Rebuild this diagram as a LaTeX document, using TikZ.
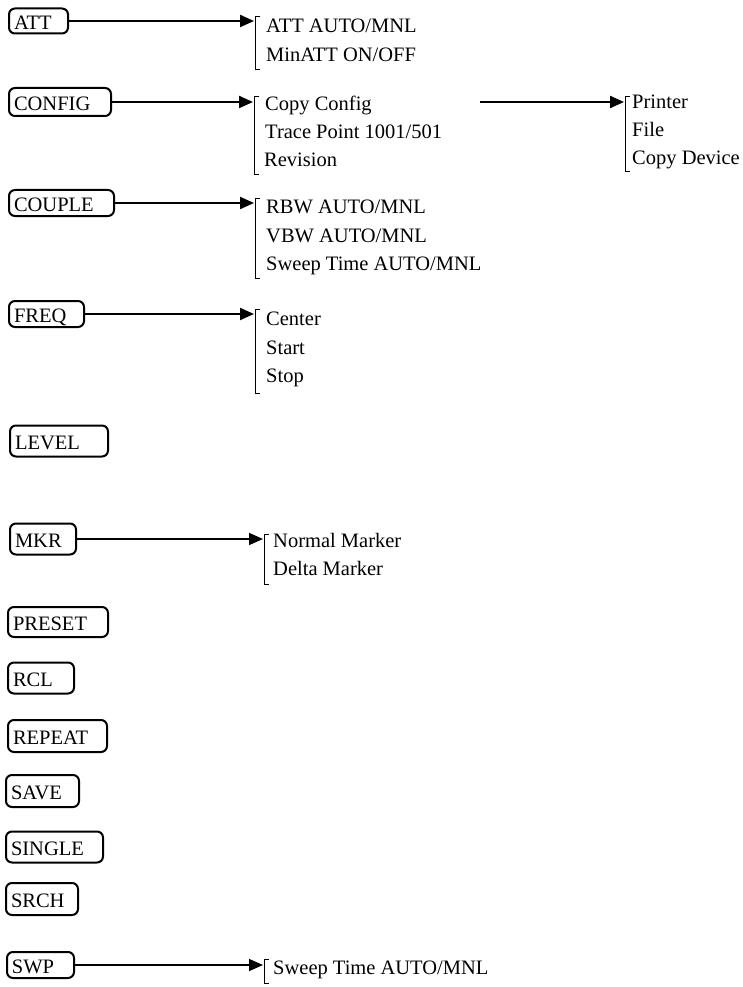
\documentclass[tikz,border=0pt]{standalone}
\usepackage{fontspec}
\setmainfont{Liberation Serif}
\usetikzlibrary{arrows.meta, positioning}

\begin{document}
\begin{tikzpicture}[x=1pt, y=-1pt, font=\fontsize{20.5pt}{24pt}\selectfont,
	menukey/.style={draw, line width=2pt, rounded corners=6pt, anchor=west, inner xsep=5pt, inner ysep=0pt, text height=17pt, text depth=0pt},
	menuarrow/.style={line width=2.2pt, -{Triangle[length=14pt, width=12pt]}},
	itembracket/.style={line width=1pt},
	entry/.style={anchor=base west, inner sep=0pt}]
	\useasboundingbox (0,0) rectangle (743,987);
	% Keys:
	\node[menukey, minimum height=25pt] (att) at (8,21) {\makebox[49pt][l]{ATT}};
	\node[menukey, minimum height=28pt] (config) at (8,102) {\makebox[92pt][l]{CONFIG}};
	\node[menukey, minimum height=26pt] (couple) at (8,203) {\makebox[95pt][l]{COUPLE}};
	\node[menukey, minimum height=26pt] (freq) at (8,314) {\makebox[65pt][l]{FREQ}};
	\node[menukey, minimum height=31pt] (level) at (9,441) {\makebox[88pt][l]{LEVEL}};
	\node[menukey, minimum height=31pt] (mkr) at (9,539) {\makebox[56pt][l]{MKR}};
	\node[menukey, minimum height=30pt] (preset) at (7,622) {\makebox[90pt][l]{PRESET}};
	\node[menukey, minimum height=31pt] (rcl) at (7,678) {\makebox[56pt][l]{RCL}};
	\node[menukey, minimum height=32pt] (repeat) at (7,736) {\makebox[89pt][l]{REPEAT}};
	\node[menukey, minimum height=32pt] (save) at (5,791) {\makebox[63pt][l]{SAVE}};
	\node[menukey, minimum height=31pt] (single) at (5,847) {\makebox[87pt][l]{SINGLE}};
	\node[menukey, minimum height=32pt] (srch) at (5,899) {\makebox[62pt][l]{SRCH}};
	\node[menukey, minimum height=26pt] (swp) at (6,965) {\makebox[57pt][l]{SWP}};
	% Bracket ends:
	\coordinate (att-br) at (254,21);
	\coordinate (config-br) at (253,102);
	\coordinate (couple-br) at (254,203);
	\coordinate (freq-br) at (254,314);
	\coordinate (mkr-br) at (263,539);
	\coordinate (swp-br) at (263,965);
	\coordinate (copy-out) at (480,102);
	\coordinate (copy-br) at (624,102);
	% Arrows:
	\draw[menuarrow] (att) -- (att-br);
	\draw[menuarrow] (config) -- (config-br);
	\draw[menuarrow] (couple) -- (couple-br);
	\draw[menuarrow] (freq) -- (freq-br);
	\draw[menuarrow, line width=1.5pt] (mkr) -- (mkr-br);
	\draw[menuarrow, line width=1.5pt] (swp) -- (swp-br);
	\draw[menuarrow] (copy-out) -- (copy-br);
	% Brackets:
	\draw[itembracket] (260,17) -| (255,70) -- (260,70);
	\draw[itembracket] (259,97) -| (254,175) -- (259,175);
	\draw[itembracket] (260,198) -| (255,278) -- (260,278);
	\draw[itembracket] (260,309) -| (255,393) -- (260,393);
	\draw[itembracket] (269,534) -| (264,584) -- (269,584);
	\draw[itembracket] (269,959) -| (264,983) -- (269,983);
	\draw[itembracket] (630,97) -| (625,172) -- (630,172);
	% Entries:
	\node[entry] (att-1) at (266,33) {ATT AUTO/MNL};
	\node[entry] (att-2) at (266,62) {MinATT ON/OFF};
	\node[entry] (config-1) at (265,111) {Copy Config};
	\node[entry] (config-2) at (265,139) {Trace Point 1001/501};
	\node[entry] (config-3) at (264,167) {Revision};
	\node[entry] (copy-1) at (632,109) {Printer};
	\node[entry] (copy-2) at (632,137) {File};
	\node[entry] (copy-3) at (632,165) {Copy Device};
	\node[entry] (couple-1) at (266,213) {RBW AUTO/MNL};
	\node[entry] (couple-2) at (266,242) {VBW AUTO/MNL};
	\node[entry] (couple-3) at (266,270) {Sweep Time AUTO/MNL};
	\node[entry] (freq-1) at (266,325) {Center};
	\node[entry] (freq-2) at (266,354) {Start};
	\node[entry] (freq-3) at (266,382) {Stop};
	\node[entry] (mkr-1) at (273,547) {Normal Marker};
	\node[entry] (mkr-2) at (273,575) {Delta Marker};
	\node[entry] (swp-1) at (273,974) {Sweep Time AUTO/MNL};
\end{tikzpicture}
\end{document}
